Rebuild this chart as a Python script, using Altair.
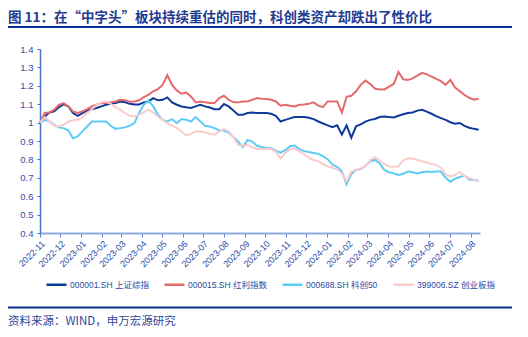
import altair as alt
import pandas as pd

dates = pd.date_range("2022-11-01", periods=94, freq="7D").strftime("%Y-%m-%d").tolist()

sh = [1.000, 1.033, 1.055, 1.061, 1.084, 1.099, 1.088, 1.052, 1.037, 1.052,
      1.066, 1.073, 1.079, 1.088, 1.097, 1.102, 1.106, 1.115, 1.111, 1.102,
      1.099, 1.099, 1.110, 1.115, 1.133, 1.121, 1.124, 1.137, 1.110, 1.097,
      1.088, 1.083, 1.079, 1.088, 1.097, 1.088, 1.082, 1.073, 1.073, 1.101,
      1.088, 1.066, 1.043, 1.043, 1.052, 1.055, 1.052, 1.052, 1.052, 1.048,
      1.037, 1.006, 1.015, 1.023, 1.030, 1.030, 1.030, 1.026, 1.019, 1.006,
      0.995, 0.985, 0.975, 0.985, 0.935, 0.985, 0.918, 0.980, 0.990, 1.005,
      1.015, 1.020, 1.030, 1.033, 1.030, 1.028, 1.037, 1.045, 1.052, 1.055,
      1.065, 1.070, 1.060, 1.048, 1.035, 1.024, 1.015, 1.002, 0.994, 0.998,
      0.982, 0.972, 0.966, 0.961]

hl = [1.000, 1.052, 1.055, 1.070, 1.097, 1.106, 1.088, 1.061, 1.052, 1.061,
      1.073, 1.088, 1.097, 1.106, 1.106, 1.110, 1.115, 1.124, 1.121, 1.113,
      1.115, 1.121, 1.139, 1.151, 1.170, 1.182, 1.205, 1.258, 1.205, 1.175,
      1.157, 1.163, 1.142, 1.110, 1.115, 1.110, 1.106, 1.106, 1.133, 1.146,
      1.124, 1.110, 1.110, 1.115, 1.115, 1.124, 1.133, 1.130, 1.128, 1.124,
      1.115, 1.092, 1.097, 1.092, 1.088, 1.097, 1.099, 1.102, 1.110, 1.092,
      1.084, 1.115, 1.115, 1.115, 1.055, 1.140, 1.146, 1.170, 1.205, 1.228,
      1.210, 1.185, 1.180, 1.180, 1.195, 1.210, 1.275, 1.235, 1.232, 1.240,
      1.255, 1.270, 1.262, 1.250, 1.238, 1.225, 1.205, 1.232, 1.190, 1.170,
      1.150, 1.135, 1.125, 1.130]

kc = [1.000, 1.015, 1.006, 0.988, 0.974, 0.970, 0.957, 0.915, 0.925, 0.952,
      0.979, 1.006, 1.006, 1.006, 1.006, 0.983, 0.966, 0.970, 0.974, 0.983,
      0.997, 1.052, 1.097, 1.120, 1.088, 1.043, 1.015, 1.006, 1.019, 0.997,
      1.019, 1.015, 1.006, 1.030, 1.006, 0.983, 0.979, 0.970, 0.957, 0.957,
      0.946, 0.921, 0.897, 0.867, 0.906, 0.897, 0.874, 0.867, 0.861, 0.861,
      0.848, 0.837, 0.850, 0.872, 0.875, 0.856, 0.845, 0.840, 0.835, 0.830,
      0.818, 0.800, 0.772, 0.760, 0.735, 0.665, 0.720, 0.743, 0.748, 0.765,
      0.790, 0.797, 0.779, 0.743, 0.730, 0.724, 0.715, 0.722, 0.734, 0.730,
      0.724, 0.730, 0.734, 0.732, 0.734, 0.734, 0.700, 0.679, 0.695, 0.704,
      0.712, 0.690, 0.688, 0.685]

cy = [1.000, 1.030, 1.006, 0.983, 0.979, 0.988, 1.006, 1.012, 1.015, 1.030,
      1.052, 1.073, 1.097, 1.110, 1.115, 1.102, 1.084, 1.070, 1.052, 1.037,
      1.033, 1.043, 1.055, 1.070, 1.055, 1.033, 1.015, 0.997, 0.983, 0.970,
      0.952, 0.930, 0.939, 0.952, 0.952, 0.946, 0.939, 0.934, 0.952, 0.965,
      0.952, 0.921, 0.879, 0.874, 0.879, 0.867, 0.856, 0.856, 0.856, 0.856,
      0.843, 0.805, 0.835, 0.855, 0.860, 0.843, 0.828, 0.810, 0.795, 0.790,
      0.775, 0.762, 0.755, 0.745, 0.725, 0.682, 0.734, 0.742, 0.752, 0.762,
      0.795, 0.812, 0.795, 0.775, 0.761, 0.760, 0.763, 0.795, 0.805, 0.805,
      0.797, 0.790, 0.783, 0.775, 0.770, 0.755, 0.718, 0.708, 0.715, 0.732,
      0.710, 0.698, 0.690, 0.680]

names = ["000001.SH 上证综指", "000015.SH 红利指数", "000688.SH 科创50", "399006.SZ 创业板指"]
colors = ["#0e3a98", "#e56a6c", "#5ccbf6", "#f8cccc"]
y_ticks = [0.4, 0.5, 0.6, 0.7, 0.8, 0.9, 1.0, 1.1, 1.2, 1.3, 1.4]

title_text = "图 11：在“中字头”板块持续重估的同时，科创类资产却跌出了性价比"
source_text = "资料来源：WIND，申万宏源研究"

rows = []
for name, vals in zip(names, [sh, hl, kc, cy]):
    for d, v in zip(dates, vals):
        rows.append({"date": d, "series": name, "value": v})
df = pd.DataFrame(rows)

FONT = "Liberation Sans, Noto Sans CJK SC, sans-serif"
CJK = "Noto Sans CJK SC, sans-serif"

x_enc = alt.X(
    "date:T",
    scale=alt.Scale(domain=[alt.DateTime(year=2022, month=11, date=1),
                            alt.DateTime(year=2024, month=8, date=15)]),
    axis=alt.Axis(format="%Y-%m", labelAngle=-45, tickCount={"interval": "month", "step": 1},
                  labelOverlap=False, labelFlush=False,
                  title=None, grid=False, domainColor="#8eaadb", domainWidth=2,
                  tickColor="#5b7fcf", tickSize=4, labelColor="#2d4ea6",
                  labelFontSize=9, labelFont=FONT, labelPadding=2),
)
y_enc = alt.Y(
    "value:Q",
    scale=alt.Scale(domain=[0.4, 1.4], nice=False, zero=False),
    axis=alt.Axis(values=y_ticks, format=".1~f", title=None, grid=False,
                  labelOverlap=False, labelFlush=False,
                  domainColor="#4a72c8", domainWidth=1.5, tickColor="#4a72c8",
                  tickSize=3, labelColor="#2d4ea6", labelFontSize=9.5,
                  labelFont=FONT, labelPadding=4),
)

lines = alt.Chart(df).mark_line(strokeWidth=2).encode(
    x=x_enc, y=y_enc,
    color=alt.Color("series:N",
                    scale=alt.Scale(domain=names, range=colors),
                    legend=alt.Legend(orient="none", legendX=5, legendY=224,
                                      direction="horizontal", title=None,
                                      symbolType="stroke", symbolStrokeWidth=2.5,
                                      symbolSize=400, labelFontSize=8.5,
                                      labelColor="#2b4aa0", labelFont=FONT,
                                      labelOffset=2, columnPadding=10,
                                      labelLimit=300, padding=0)),
)

one = pd.DataFrame({"t": [title_text]})
title = alt.Chart(one).mark_text(align="left", baseline="middle", fontSize=13.5,
                                 fontWeight="bold", font=CJK, color="#1f3a8f").encode(
    x=alt.value(-32), y=alt.value(-31), text="t:N")
underline = alt.Chart(one).mark_rule(color="#0a3096", strokeWidth=2).encode(
    x=alt.value(-32), x2=alt.value(472), y=alt.value(-22))
bottom_rule = alt.Chart(one).mark_rule(color="#0a3096", strokeWidth=2).encode(
    x=alt.value(-32), x2=alt.value(472), y=alt.value(258.5))
src = alt.Chart(pd.DataFrame({"t": [source_text]})).mark_text(
    align="left", baseline="middle", fontSize=11.5, font=CJK, color="#2c4a9a").encode(
    x=alt.value(-32), y=alt.value(273), text="t:N")

chart = alt.layer(lines, title, underline, bottom_rule, src).properties(
    width=440, height=184,
    background="white",
    autosize=alt.AutoSizeParams(type="none"),
    padding={"left": 40, "top": 49, "right": 48, "bottom": 104},
).configure_view(strokeWidth=0)

chart.save("out.html", embed_options={"renderer": "svg", "actions": False})
